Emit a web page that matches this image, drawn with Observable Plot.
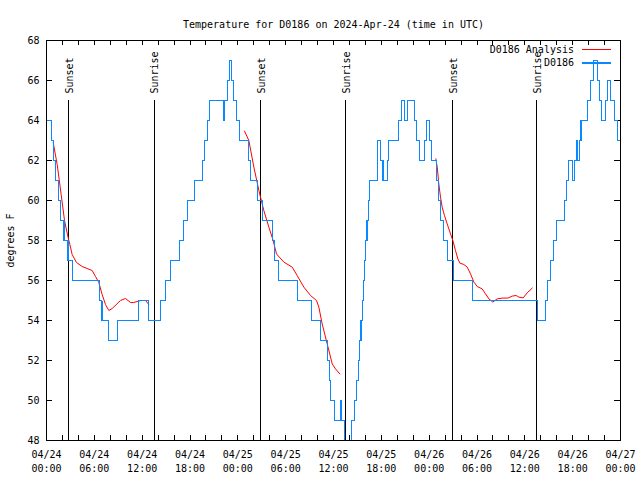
<!DOCTYPE html>
<html><head><meta charset="utf-8">
<script src="https://cdn.jsdelivr.net/npm/d3@7"></script>
<script src="https://cdn.jsdelivr.net/npm/@observablehq/plot@0.6"></script>
<style>body{margin:0;background:#fff} #chart svg{display:block}</style>
</head><body><div id="chart"></div>
<script>
const titleText = "Temperature for D0186 on 2024-Apr-24 (time in UTC)";
const yLabel = "degrees F";
const startUTC = "2024-04-24T00:00:00Z";

// Observed station temperatures (D0186): hours since start, degrees F (step changes)
const obsHours = [0,0.6,0.85,1.15,1.5,1.8,2.2,2.7,3.25,6.6,6.95,7.75,8.95,11.55,12.8,14.3,14.93,15.55,16.73,17.14,17.65,18.56,19.53,19.82,20.16,20.49,22.16,22.37,22.67,22.96,23.2,23.5,23.83,24.25,25.38,25.6,26.45,27.06,28.3,28.64,29.14,31.44,33.2,34.4,35.2,35.46,35.62,36.13,36.88,37.05,37.35,38.3,38.6,38.85,39.1,39.3,39.45,39.6,39.75,39.9,40.05,40.2,40.35,40.55,41.56,41.85,42.2,42.73,42.94,44.2,44.5,44.95,45.33,46.16,46.41,46.83,47.46,47.7,48.0,48.25,48.92,49.13,49.42,49.76,50.3,51.1,53.4,61.55,62.6,62.85,63.2,63.6,64.0,65.0,65.25,65.5,65.95,66.2,66.5,66.65,66.85,67.05,67.82,68.24,68.65,69.15,69.4,69.58,70.12,70.41,70.75,71.25,71.59,72];
const obsTemps = [64,63,62,61,60,59,58,57,56,55,54,53,54,55,54,55,56,57,58,59,60,61,62,63,64,65,64,65,66,67,66,65,64,63,62,61,60,59,58,57,56,55,54,53,52,51,50,49,50,49,48,49,50,51,52,53,54,55,56,57,58,59,60,61,63,62,61,62,63,64,65,64,65,64,63,62,63,64,63,62,61,60,59,58,57,56,55,54,55,56,57,58,59,60,61,62,61,62,63,62,63,64,65,66,67,66,65,64,65,66,65,64,63,63];

// Analysis (model) temperatures, three overnight segments
const anaHours1 = [0.84,1.34,1.84,2.26,2.68,2.93,3.22,3.76,4.47,5.10,5.73,6.15,6.56,6.98,7.40,7.82,8.24,9.28,9.91,10.54,10.95,11.79,12.42,12.83];
const anaTemps1 = [62.9,61.8,60.3,59.0,58.2,57.8,57.3,56.9,56.7,56.6,56.5,56.2,55.9,55.3,54.8,54.5,54.6,55.0,55.1,54.9,54.9,55.0,55.0,54.8];
const anaHours2 = [24.84,25.38,26.01,26.64,27.26,27.89,28.43,28.85,29.77,30.82,31.44,32.28,33.12,33.87,34.16,34.58,35.21,35.84,36.25,36.79];
const anaTemps2 = [63.47,63.0,61.67,60.5,59.5,58.67,58.0,57.33,56.92,56.67,56.25,55.67,55.25,55.0,54.67,53.83,52.83,51.83,51.58,51.33];
const anaHours3 = [48.84,49.01,49.21,49.42,49.63,49.92,50.26,50.68,50.97,51.30,51.60,51.85,52.35,52.77,53.19,53.61,54.03,54.65,55.07,55.49,55.99,56.53,57.16,57.87,58.41,58.91,59.25,59.79,60.29,60.93];
const anaTemps3 = [62.08,61.67,60.83,60.17,59.67,59.25,58.83,58.33,58.0,57.5,57.08,56.87,56.8,56.67,56.33,55.92,55.7,55.58,55.33,55.08,54.92,55.08,55.12,55.12,55.22,55.25,55.17,55.13,55.38,55.62];

const sunHours = [2.8, 13.5, 26.9, 37.55, 50.97, 61.5];
const sunLabels = ["Sunset","Sunrise","Sunset","Sunrise","Sunset","Sunrise"];

const yTicks = [48,50,52,54,56,58,60,62,64,66,68];
const labelHours = [0,6,12,18,24,30,36,42,48,54,60,66,72];
const minorHours = [0,2,4,6,8,10,12,14,16,18,20,22,24,26,28,30,32,34,36,38,40,42,44,46,48,50,52,54,56,58,60,62,64,66,68,70,72];

const seriesNames = ["D0186 Analysis", "D0186"];
const seriesColors = ["#ff0000", "#0a88ff"];

const t0 = Date.parse(startUTC);
const toDate = h => new Date(t0 + h * 3600e3);
const obs = obsHours.map((h, i) => ({t: toDate(h), v: obsTemps[i]}));
const ana = [[anaHours1, anaTemps1], [anaHours2, anaTemps2], [anaHours3, anaTemps3]]
  .flatMap(([hs, vs], k) => hs.map((h, i) => ({t: toDate(h), v: vs[i], seg: k})));
const sun = sunHours.map((h, i) => ({t: toDate(h), label: sunLabels[i]}));
const font = "'DejaVu Sans Mono', monospace";

const plot = Plot.plot({
  width: 640, height: 480,
  marginLeft: 46, marginRight: 20, marginTop: 40, marginBottom: 40,
  style: {fontFamily: font, fontSize: "10px", background: "white", color: "black"},
  x: {type: "utc", domain: [toDate(0), toDate(72)]},
  y: {domain: [48, 68]},
  marks: [
    Plot.tickX(minorHours.map(toDate), {x: d => d, insetTop: 395, stroke: "black", shapeRendering: "crispEdges"}),
    Plot.tickX(minorHours.map(toDate), {x: d => d, insetBottom: 395, stroke: "black", shapeRendering: "crispEdges"}),
    Plot.tickY(yTicks, {y: d => d, insetRight: 568, stroke: "black", shapeRendering: "crispEdges"}),
    Plot.tickY(yTicks, {y: d => d, insetLeft: 568, stroke: "black", shapeRendering: "crispEdges"}),
    Plot.axisX(labelHours.map(toDate), {tickSize: 0, tickPadding: 8, tickFormat: d3.utcFormat("%m/%d\n%H:%M"), lineHeight: 1.4, label: null}),
    Plot.axisY(yTicks, {tickSize: 0, tickPadding: 7, label: yLabel, labelAnchor: "center", labelArrow: "none", labelOffset: 40}),
    Plot.ruleX(sun, {x: "t", y1: 48, y2: 65, stroke: "black", shapeRendering: "crispEdges"}),
    Plot.text(sun, {x: "t", y: 65.35, text: "label", rotate: -90, textAnchor: "start", dx: 1}),
    Plot.line(ana, {x: "t", y: "v", z: "seg", stroke: seriesColors[0], strokeWidth: 1}),
    Plot.line(obs, {x: "t", y: "v", curve: "step-after", stroke: seriesColors[1], strokeWidth: 1.2, shapeRendering: "crispEdges"}),
    Plot.frame({stroke: "black", shapeRendering: "crispEdges"}),
    Plot.text([titleText], {frameAnchor: "top", dy: -20})
  ]
});
document.getElementById("chart").appendChild(plot);

// Legend (top-right, inside frame)
const g = d3.select(plot).append("g").attr("font-family", font).attr("font-size", 10);
seriesNames.forEach((name, i) => {
  const cy = 49.5 + i * 13.5;
  g.append("text").attr("x", 574).attr("y", cy).attr("dy", "0.32em").attr("text-anchor", "end").attr("fill", "black").text(name);
  g.append("line").attr("x1", 582).attr("x2", 611).attr("y1", cy).attr("y2", cy)
    .attr("stroke", seriesColors[i]).attr("stroke-width", i ? 1.2 : 1).attr("shape-rendering", "crispEdges");
});
</script>
</body></html>
